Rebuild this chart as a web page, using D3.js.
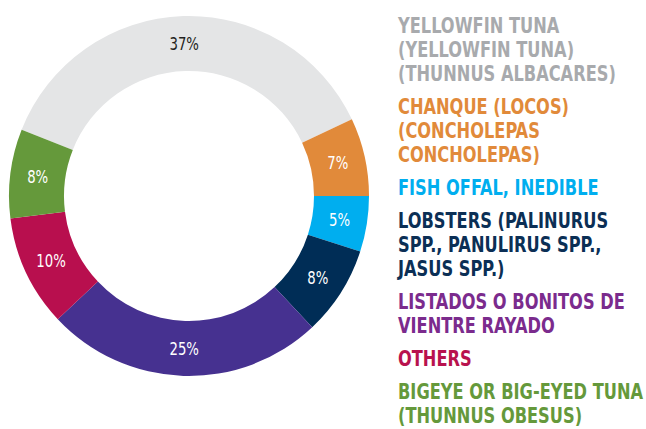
<!DOCTYPE html>
<html>
<head>
<meta charset="utf-8">
<title>Donut</title>
<script src="https://d3js.org/d3.v7.min.js"></script>
<style>
    body { margin: 0; background: #fff; }
    .lbl { font-family: "DejaVu Sans Condensed", "DejaVu Sans", sans-serif; font-size: 18px; text-anchor: middle; }
    .legend text { font-family: "DejaVu Sans Condensed", "DejaVu Sans", sans-serif; font-weight: bold; font-size: 22px; }
</style>
</head>
<body>
<svg width="646" height="429"></svg>
<script>
// data
var categories = [
    ["YELLOWFIN TUNA", "(YELLOWFIN TUNA)", "(THUNNUS ALBACARES)"],
    ["CHANQUE (LOCOS)", "(CONCHOLEPAS", "CONCHOLEPAS)"],
    ["FISH OFFAL, INEDIBLE"],
    ["LOBSTERS (PALINURUS", "SPP., PANULIRUS SPP.,", "JASUS SPP.)"],
    ["LISTADOS O BONITOS DE", "VIENTRE RAYADO"],
    ["OTHERS"],
    ["BIGEYE OR BIG-EYED TUNA", "(THUNNUS OBESUS)"]
];
var shares = [37, 7, 5, 8, 25, 10, 8];
var sliceColors = ["#e4e5e6", "#e18a3a", "#00aeef", "#002d56", "#463190", "#b80f4e", "#65993b"];
var textColors  = ["#a8aaad", "#e18a3a", "#00aeef", "#0b2f55", "#7b2b8d", "#b8124e", "#65993b"];
var labelColors = ["#231f20", "#fff", "#fff", "#fff", "#fff", "#fff", "#fff"];

var svg = d3.select("svg");
var cx = 189, cy = 196, outerR = 180, innerR = 125;
var squeeze = 0.82; // no condensed face installed, so narrow the text by hand

var total = d3.sum(shares);
// orange slice ends at 3 o'clock
var start = Math.PI / 2 - (shares[0] + shares[1]) / total * 2 * Math.PI;

var pie = d3.pie().sort(null).value(function(d) { return d; })
    .startAngle(start).endAngle(start + 2 * Math.PI);

var arc = d3.arc().innerRadius(innerR).outerRadius(outerR);
var mid = d3.arc().innerRadius((innerR + outerR) / 2).outerRadius((innerR + outerR) / 2);

var g = svg.append("g").attr("transform", "translate(" + cx + "," + cy + ")");

var slices = g.selectAll(".arc").data(pie(shares)).enter().append("g").attr("class", "arc");

slices.append("path")
    .attr("d", arc)
    .attr("fill", function(d, i) { return sliceColors[i]; });

slices.append("text")
    .attr("class", "lbl")
    .attr("transform", function(d) { return "translate(" + mid.centroid(d) + ") scale(" + squeeze + ",1)"; })
    .attr("dy", "0.35em")
    .attr("fill", function(d, i) { return labelColors[i]; })
    .text(function(d) { return d.data + "%"; });

// legend
var lineH = 24, groupGap = 9;
var legend = svg.append("g").attr("class", "legend")
    .attr("transform", "translate(398,33) scale(" + squeeze + ",1)");
var y = 0;
categories.forEach(function(lines, i) {
    var t = legend.append("text").attr("fill", textColors[i]).attr("y", y);
    lines.forEach(function(s, j) {
        t.append("tspan").attr("x", 0).attr("y", y + j * lineH).text(s);
    });
    y += lines.length * lineH + groupGap;
});
</script>
</body>
</html>
